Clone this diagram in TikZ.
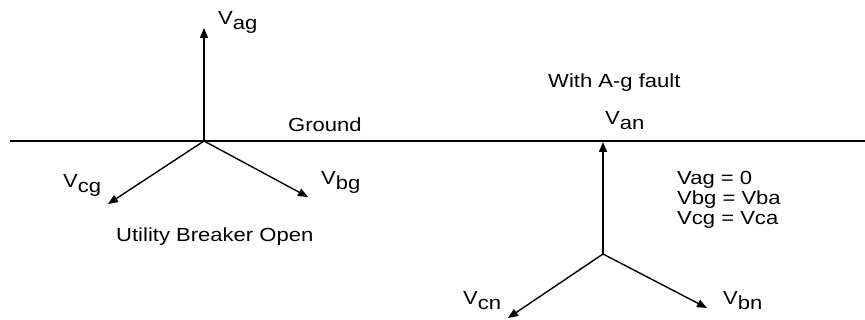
\documentclass[tikz,border=0pt]{standalone}
\usepackage{fontspec}
\setmainfont{Liberation Sans}
\newfontfamily\lblfont[FakeStretch=1.16]{Liberation Sans}
\usetikzlibrary{arrows.meta}
\newcommand\lowsub[1]{\raisebox{-5pt}{#1}}
\tikzset{
  phasor/.style={line width=1.4pt, -{Triangle[length=10pt,width=8pt]}},
  groundline/.style={line width=1.4pt},
  lbl/.style={anchor=base west, inner sep=0pt, font=\lblfont\fontsize{19}{20}\selectfont},
}
\begin{document}
\begin{tikzpicture}[x=1pt,y=-1pt]
\useasboundingbox (0,0) rectangle (865,320);
% ground reference
\coordinate (gl) at (10,141);
\coordinate (gr) at (865,141);
\draw[groundline] (gl) -- (gr);
\node[lbl] (ground) at (288,132) {Ground};

% phasors with the utility breaker open
\coordinate (o1) at (204,141);
\coordinate (ag) at (204,28);
\coordinate (bg) at (308,197);
\coordinate (cg) at (108,204);
\draw[phasor] (o1) -- (ag);
\draw[phasor] (o1) -- (bg);
\draw[phasor] (o1) -- (cg);
\node[lbl] (lag) at (218,25) {V\lowsub{ag}};
\node[lbl] (lbg) at (321,185) {V\lowsub{bg}};
\node[lbl] (lcg) at (63,188) {V\lowsub{cg}};
\node[lbl] (open) at (116,242) {Utility Breaker Open};

% phasors with the A-g fault
\coordinate (o2) at (603,254);
\coordinate (an) at (603,142);
\coordinate (bn) at (707,308);
\coordinate (cn) at (508,318);
\draw[phasor] (o2) -- (an);
\draw[phasor] (o2) -- (bn);
\draw[phasor] (o2) -- (cn);
\node[lbl] (fault) at (548,88) {With A-g fault};
\node[lbl] (lan) at (605,125) {V\lowsub{an}};
\node[lbl] (lbn) at (723,305) {V\lowsub{bn}};
\node[lbl] (lcn) at (463,305) {V\lowsub{cn}};
\node[lbl] (eqa) at (677,185) {Vag = 0};
\node[lbl] (eqb) at (677,205) {Vbg = Vba};
\node[lbl] (eqc) at (677,225) {Vcg = Vca};
\end{tikzpicture}
\end{document}
